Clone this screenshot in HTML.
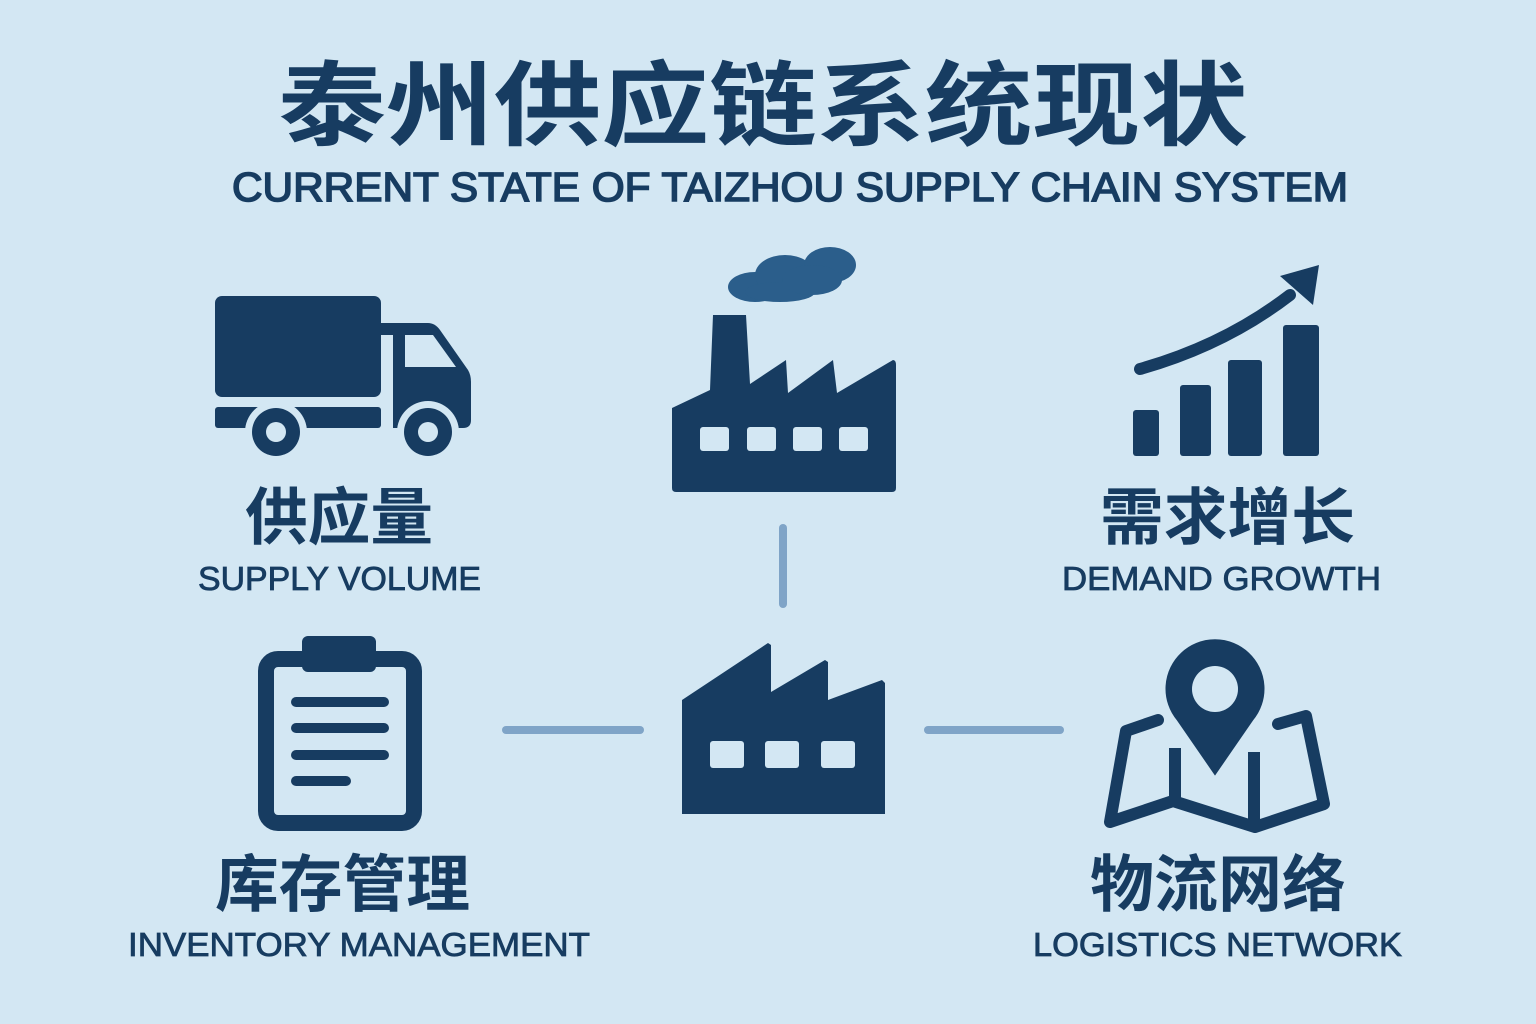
<!DOCTYPE html>
<html><head><meta charset="utf-8"><style>
html,body{margin:0;padding:0;background:#d3e7f3;}
svg{display:block}
</style></head><body>
<svg width="1536" height="1024" viewBox="0 0 1536 1024" xmlns="http://www.w3.org/2000/svg">
<rect width="1536" height="1024" fill="#d3e7f3"/>
<g fill="#173c61" font-family="'Liberation Sans','Noto Sans CJK SC',sans-serif" font-weight="bold">
<text x="278" y="138" font-size="92" textLength="970" lengthAdjust="spacingAndGlyphs" font-family="'Noto Sans CJK SC',sans-serif" font-weight="700">泰州供应链系统现状</text>
<text x="232" y="201" font-size="41" textLength="1116" lengthAdjust="spacingAndGlyphs" font-weight="normal" stroke="#173c61" stroke-width="1.6">CURRENT STATE OF TAIZHOU SUPPLY CHAIN SYSTEM</text>
<text x="245" y="539" font-size="62" textLength="188" lengthAdjust="spacingAndGlyphs" font-family="'Noto Sans CJK SC',sans-serif" font-weight="700">供应量</text>
<text x="198" y="590" font-size="33" textLength="283" lengthAdjust="spacingAndGlyphs" font-weight="normal" stroke="#173c61" stroke-width="0.8">SUPPLY VOLUME</text>
<text x="1100" y="539" font-size="62" textLength="255" lengthAdjust="spacingAndGlyphs" font-family="'Noto Sans CJK SC',sans-serif" font-weight="700">需求增长</text>
<text x="1062" y="590" font-size="33" textLength="319" lengthAdjust="spacingAndGlyphs" font-weight="normal" stroke="#173c61" stroke-width="0.8">DEMAND GROWTH</text>
<text x="215" y="906" font-size="62" textLength="255" lengthAdjust="spacingAndGlyphs" font-family="'Noto Sans CJK SC',sans-serif" font-weight="700">库存管理</text>
<text x="128" y="956" font-size="33" textLength="462" lengthAdjust="spacingAndGlyphs" font-weight="normal" stroke="#173c61" stroke-width="0.8">INVENTORY MANAGEMENT</text>
<text x="1090" y="906" font-size="62" textLength="256" lengthAdjust="spacingAndGlyphs" font-family="'Noto Sans CJK SC',sans-serif" font-weight="700">物流网络</text>
<text x="1033" y="956" font-size="33" textLength="369" lengthAdjust="spacingAndGlyphs" font-weight="normal" stroke="#173c61" stroke-width="0.8">LOGISTICS NETWORK</text>
</g>
<g stroke="#7fa4c7" stroke-width="8" stroke-linecap="round">
<line x1="783" y1="528" x2="783" y2="604"/>
<line x1="506" y1="730" x2="640" y2="730"/>
<line x1="928" y1="730" x2="1060" y2="730"/>
</g>
<g fill="#173c61">
<rect x="215" y="296" width="166" height="101" rx="7"/>
<rect x="378" y="323" width="16" height="12"/>
<path d="M393 323 H428 Q435 323 440 330 L468 370 Q471 375 471 382 V420 Q471 428 463 428 H393 Z"/>
<rect x="215" y="407" width="166" height="21" rx="3"/>
<circle cx="276" cy="432" r="31" fill="#d3e7f3"/>
<circle cx="428" cy="432" r="31" fill="#d3e7f3"/>
<circle cx="276" cy="432" r="24"/>
<circle cx="428" cy="432" r="24"/>
<circle cx="276" cy="432" r="10" fill="#d3e7f3"/>
<circle cx="428" cy="432" r="10" fill="#d3e7f3"/>
<path d="M405 335 H433 L456 367 H405 Z" fill="#d3e7f3"/>
</g>
<g fill="#2b5e8b">
<ellipse cx="755" cy="287" rx="27" ry="15"/>
<ellipse cx="785" cy="275" rx="30" ry="20"/>
<ellipse cx="830" cy="265" rx="26" ry="18"/>
<ellipse cx="780" cy="292" rx="35" ry="10"/>
<ellipse cx="812" cy="280" rx="30" ry="15"/>
</g>
<g fill="#173c61">
<path d="M672 408 L710 390 L713 315 H746 L750 384 L786 360 L788 393 L833 360 L837 393 L893 360 Q896 360 896 365 V488 Q896 492 892 492 H676 Q672 492 672 488 Z"/>
<g fill="#d3e7f3">
<rect x="700" y="427" width="29" height="24" rx="3"/>
<rect x="747" y="427" width="29" height="24" rx="3"/>
<rect x="793" y="427" width="29" height="24" rx="3"/>
<rect x="839" y="427" width="29" height="24" rx="3"/>
</g>
</g>
<g fill="#173c61">
<path d="M682 700 L768 643 L771 645 V692 L825 660 L828 662 V700 L882 680 L885 683 V814 H682 Z"/>
<g fill="#d3e7f3">
<rect x="710" y="741" width="34" height="27" rx="3"/>
<rect x="765" y="741" width="34" height="27" rx="3"/>
<rect x="821" y="741" width="34" height="27" rx="3"/>
</g>
</g>
<g fill="#173c61">
<rect x="1133" y="410" width="26" height="46" rx="3"/>
<rect x="1180" y="385" width="31" height="71" rx="3"/>
<rect x="1228" y="360" width="34" height="96" rx="3"/>
<rect x="1283" y="325" width="36" height="131" rx="3"/>
<path d="M1140 369 Q1225 345 1290 295" fill="none" stroke="#173c61" stroke-width="12" stroke-linecap="round"/>
<path d="M1319 265 L1313 305 L1280 276 Z"/>
</g>
<g>
<rect x="266" y="659" width="148" height="164" rx="12" fill="none" stroke="#173c61" stroke-width="16"/>
<rect x="302" y="636" width="74" height="36" rx="6" fill="#173c61"/>
<g stroke="#173c61" stroke-width="10" stroke-linecap="round">
<line x1="296" y1="702" x2="384" y2="702"/>
<line x1="296" y1="728" x2="384" y2="728"/>
<line x1="296" y1="755" x2="384" y2="755"/>
<line x1="296" y1="781" x2="346" y2="781"/>
</g>
</g>
<g>
<path d="M1158 720 L1126 731 L1110 822 L1173 801 L1255 827 L1324 804 L1306 716 L1278 724" fill="none" stroke="#173c61" stroke-width="12" stroke-linejoin="round" stroke-linecap="round"/>
<line x1="1175" y1="748" x2="1175" y2="803" stroke="#173c61" stroke-width="12"/>
<line x1="1254" y1="752" x2="1254" y2="826" stroke="#173c61" stroke-width="12"/>
<path d="M1215 780 L1175 722 A52 52 0 1 1 1255 722 Z" fill="#173c61" stroke="#d3e7f3" stroke-width="5"/>
<circle cx="1215" cy="689" r="23" fill="#d3e7f3"/>
</g>
</svg>
</body></html>
